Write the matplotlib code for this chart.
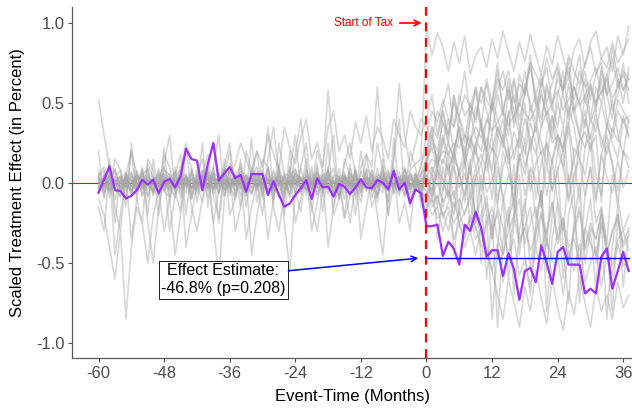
import numpy as np
import matplotlib
matplotlib.use("Agg")
import matplotlib.pyplot as plt

plt.rcParams['font.family'] = ['Liberation Sans', 'DejaVu Sans']
plt.rcParams['axes.unicode_minus'] = False

# event time in months
months = list(range(-60, 38))

# treated unit (purple), scaled effect
treated = [
    -0.06, 0.02, 0.105, -0.044, -0.05, -0.096, -0.08, -0.044, 0.02, -0.01,
    0.02, -0.065, 0.008, 0.025, -0.027, 0.04, 0.215, 0.15, 0.14, -0.044,
    0.12, 0.25, 0.015, 0.06, 0.10, 0.03, 0.05, -0.054, 0.056, 0.056,
    0.056, -0.075, 0.012, -0.075, -0.148, -0.127, -0.075, -0.033, 0.019, -0.10,
    0.03, -0.027, -0.023, -0.085, -0.006, -0.023, -0.069, -0.027, 0.023, -0.027,
    -0.033, 0.019, 0.002, -0.04, 0.075, -0.04, 0.002, -0.127, -0.04, -0.064,
    -0.27, -0.27, -0.26, -0.456, -0.367, -0.41, -0.51, -0.26, -0.30, -0.18,
    -0.28, -0.46, -0.42, -0.42, -0.58, -0.44, -0.54, -0.73, -0.55, -0.53,
    -0.62, -0.39, -0.50, -0.63, -0.43, -0.40, -0.51, -0.51, -0.51, -0.69,
    -0.66, -0.69, -0.46, -0.41, -0.66, -0.55, -0.43, -0.55,
]

effect = -0.468
effect_label = "Effect Estimate:\n-46.8% (p=0.208)"

# placebo units (grey), in hundredths
plc_01 = [3,-2,5,1,-4,2,6,-3,0,4, -2,3,-5,2,1,-3,4,0,-2,5, 2,-4,3,6,-1,2,-3,4,1,-2,
          0,3,-4,2,5,-1,-3,2,4,0, -2,5,1,-3,2,4,-2,0,3,-1, 2,-3,4,1,-2,3,0,5,-1,2,
          8,15,12,20,18,25,22,30,26,35, 28,40,33,38,45,36,42,50,44,39,
          47,55,43,50,58,46,52,60,48,55, 62,50,57,65,53,60,68,58]
plc_02 = [-3,2,4,-1,0,3,-2,5,1,-4, 2,0,-3,4,2,-1,3,-2,1,0, 4,-3,2,1,-2,5,0,-1,3,2,
          -4,1,3,-2,0,4,2,-3,1,5, 0,-2,3,1,-4,2,6,-1,0,3, -2,4,1,-3,2,0,5,8,12,15,
          97,80,94,85,70,88,75,92,68,80, 85,72,90,78,95,82,70,88,76,93,
          80,68,86,74,92,79,66,84,90,72, 88,95,78,85,70,92,80,98]
plc_03 = [2,-3,0,4,-2,1,-5,3,2,-1, -4,2,5,-2,0,3,-1,-3,2,4, -2,0,3,-4,1,2,-3,5,0,-2,
          3,1,-4,2,-1,0,4,-3,2,1, -1,3,-2,0,4,-3,1,2,-5,3, 0,-2,4,1,-3,2,0,-4,3,-1,
          -5,-12,-8,-20,-15,-25,-18,-30,-22,-35, -28,-40,-55,-70,-85,-60,-75,-90,-65,-80,
          -55,-72,-88,-60,-78,-92,-68,-82,-58,-75, -90,-65,-80,-70,-85,-62,-78,-70]
plc_04 = [52,30,10,-15,-30,5,20,-10,-25,15, 8,-20,12,30,-5,-18,22,10,-12,5,
          18,-8,-22,10,25,-5,12,-15,8,20, -10,15,35,5,-12,20,-8,10,25,-5,
          12,-18,8,30,-10,15,5,-20,10,18, -5,25,8,-12,15,40,-8,20,10,-15,
          20,35,10,45,25,55,30,15,40,60, 35,20,50,70,45,30,65,40,55,75,
          50,35,60,45,70,55,40,65,80,50, 60,45,70,55,85,65,50,72]
plc_05 = [-10,-20,-40,-60,-30,-85,-40,-15,-25,-50, -20,-5,-30,-10,-45,-20,5,-15,-30,-10,
          10,-25,-5,15,-20,-10,5,-35,-15,0, -20,10,-15,-30,-5,10,-25,-10,5,-15,
          -30,-5,10,-20,-10,5,-25,0,-12,8, -15,-5,10,-20,0,-8,5,-12,0,-5,
          -10,-20,-15,-30,-18,-35,-25,-40,-30,-45, -28,-42,-55,-38,-62,-45,-35,-58,-48,-65,
          -40,-55,-35,-60,-45,-70,-42,-55,-38,-62, -50,-40,-65,-45,-58,-38,-52,-48]
plc_06 = [1,-1,2,0,-2,1,3,-1,0,2, -1,1,-2,0,2,-1,1,0,-2,1, 2,-1,0,1,-2,2,0,-1,1,2,
          -1,0,2,-2,1,0,-1,2,1,-1, 0,2,-1,1,-2,0,1,2,-1,0, 2,-1,1,0,-2,1,2,-1,0,1,
          5,-8,10,-5,12,-10,8,15,-6,10, -12,18,5,-15,20,8,-10,15,25,-5,
          12,20,-8,15,28,10,-12,22,15,5, 25,-10,18,30,12,-5,20,15]
plc_07 = [5,10,-5,15,8,-10,20,5,-8,12, 3,-6,18,10,-4,8,25,-10,5,15,
          -5,10,30,-8,12,5,-15,20,8,-3, 15,10,-12,25,5,-8,18,40,10,-5,
          20,8,58,15,-10,12,25,5,-8,18, 10,60,20,-5,15,62,30,10,25,40,
          35,28,45,38,30,50,42,55,48,40, 60,52,45,65,58,70,50,62,55,75,
          68,60,78,65,72,58,80,70,62,75, 85,68,78,72,88,75,82,90]
plc_08 = [-2,4,-5,1,3,-3,0,5,-4,2, 1,-2,3,-5,2,0,4,-3,1,-1, 3,-4,2,0,-2,5,-1,3,-3,1,
          2,-5,0,4,-2,1,3,-4,0,2, -3,1,4,-2,0,3,-1,-4,2,1, -2,3,0,-3,5,-1,2,-2,1,-6,
          -15,-10,-22,-18,-30,-12,-25,-35,-20,-28, -40,-25,-15,-35,-45,-30,-20,-38,-28,-42,
          -32,-18,-36,-48,-30,-22,-40,-35,-50,-28, -38,-45,-25,-40,-52,-35,-30,-42]
plc_09 = [4,-6,2,8,-3,5,-8,3,6,-2, -5,7,1,-4,6,-1,3,-7,5,2, -3,6,-2,4,-6,3,7,-4,1,5,
          -2,4,-5,8,0,-3,6,2,-5,3, 7,-1,4,-6,2,5,-3,8,-2,4, -4,6,1,-5,3,7,-2,4,-3,6,
          10,5,18,12,25,15,8,22,30,18, 12,28,20,35,25,15,32,22,40,28,
          18,35,45,25,30,20,38,48,30,22, 40,32,50,35,28,45,38,42]
plc_10 = [-15,-30,10,-45,-20,5,-35,-10,8,-25, -50,-15,5,-30,-8,10,-40,-20,0,-12,
          5,-25,-60,-10,8,-30,-15,5,-45,-20, 0,-35,-10,10,-25,-55,-5,-18,8,-30,
          -12,5,-40,-15,0,-22,-8,10,-35,-15, 5,-20,-45,-8,10,-25,-12,-30,5,-10,
          -20,10,-35,-5,20,-45,-15,15,-30,5, -50,-20,-85,-40,-10,-60,-25,5,-45,-70,
          -30,-5,-55,-20,10,-40,-75,-25,0,-50, -30,-65,-15,-40,-80,-20,-45,-55]
plc_11 = [0,3,-2,1,4,-3,2,0,-1,3, -2,1,0,4,-3,2,-1,3,0,-2, 4,1,-3,2,0,-1,3,-2,5,1,
          -3,2,0,-1,4,-2,1,3,-4,0, 2,-1,3,0,-2,4,1,-3,2,0, -1,3,-2,1,0,4,-3,2,1,10,
          30,45,38,52,40,35,55,42,48,60, 50,62,45,58,70,52,65,48,60,72,
          55,68,50,62,75,58,66,52,70,60, 64,72,55,68,78,60,70,65]
plc_12 = [2,0,-3,1,4,-2,0,3,-1,2, -4,1,3,0,-2,5,-1,2,-3,0, 1,4,-2,0,3,-1,-4,2,1,-2,
          3,0,-1,4,-3,2,1,-2,0,3, -1,2,-4,1,3,0,-2,4,-1,2, 0,-3,1,3,-2,0,4,-1,2,-3,
          -2,-8,0,-12,-5,-15,-10,-20,-6,-18, -25,-12,-30,-18,-45,-22,-10,-35,-28,-15,
          -40,-20,-32,-12,-38,-25,-50,-30,-18,-42, -28,-35,-20,-45,-30,-22,-40,-33]
plc_13 = [20,-10,15,-25,5,-15,25,-5,10,-20, 15,-8,22,-12,5,18,-20,8,-5,25,
          -15,10,-25,5,20,-10,15,-8,28,-12, 5,35,-10,12,-20,8,30,-5,15,-18,
          10,-8,25,-15,5,-22,12,-10,20,-5, 8,-12,15,-20,28,-5,10,-15,5,-8,
          15,30,10,25,40,20,35,15,45,28, 20,38,50,30,22,42,55,35,25,48,
          32,58,40,28,50,35,62,42,30,55, 38,48,65,40,32,52,45,38]
plc_14 = [-3,1,4,-2,0,3,-5,2,1,-1, 3,-2,0,4,-4,1,2,-3,5,0, -2,3,1,-4,2,0,-1,5,-3,2,
          1,-2,4,0,-3,2,-1,3,0,-4, 2,1,-3,4,0,-2,3,-1,2,1, -4,0,3,-2,1,-1,4,0,-3,2,
          5,-10,8,-15,0,12,-20,-5,10,-25, -8,-60,-20,-90,-35,-15,-70,-30,-10,-55,
          -25,-5,-80,-35,-12,-60,-20,-5,-75,-30, -10,-50,-25,-85,-40,-15,-65,-30]
plc_15 = [1,3,-1,2,0,-2,4,1,-3,2, 0,-1,3,1,-2,0,2,-3,1,4, -1,2,0,-2,3,1,-1,0,2,-3,
          4,1,-2,0,3,-1,2,1,-4,0, 3,-2,1,2,-1,0,4,-3,1,2, -2,0,3,1,-1,2,0,-2,3,1,
          4,10,2,15,8,20,5,12,25,10, 18,8,22,15,30,12,20,28,10,24,
          35,18,25,12,30,22,38,15,26,32, 20,40,28,18,34,26,42,30]
plc_16 = [2,-4,6,0,-3,5,1,-2,4,-1, 3,-5,2,6,-2,0,4,-3,1,5, -2,3,0,-4,6,12,25,15,5,20,
          10,30,18,8,35,22,12,28,40,15, 25,10,35,45,20,30,15,38,25,42, 20,35,28,15,40,30,22,45,35,30,
          40,55,30,48,62,35,50,70,42,58, 35,65,50,75,45,60,38,68,55,80,
          48,62,72,50,65,58,78,45,60,70, 52,68,75,55,62,72,58,65]
plc_17 = [-1,2,0,-3,1,2,-2,0,3,-1, 2,-2,1,0,-1,3,-2,1,0,2, -3,1,2,-1,0,2,-2,1,3,-1,
          0,2,-3,1,2,-1,0,3,-2,1, 2,-1,0,1,-3,2,1,-2,0,3, -1,1,2,-2,0,1,-1,3,0,-2,
          3,-5,8,2,-8,10,-3,6,-10,4, 12,-6,2,15,-12,5,-4,18,-8,10,
          2,-15,12,-5,8,20,-10,5,15,-8, 10,-12,18,4,-6,14,-3,8]
plc_18 = [3,-1,-4,2,1,-2,5,0,-3,2, 1,4,-2,0,3,-4,1,2,-1,0, 5,-2,1,3,-3,0,2,-1,4,-2,
          0,3,-1,2,-4,1,5,-2,0,3, -3,1,2,0,-2,4,-1,3,1,-3, 2,0,-1,4,-2,1,3,-4,2,6,
          15,22,8,28,18,12,30,20,5,25, 35,15,-10,28,40,22,-20,32,18,38,
          25,-15,30,42,20,10,35,-5,28,45, 22,30,-12,38,25,15,40,28]
plc_19 = [6,-8,3,9,-5,2,-7,8,-3,5, -6,4,10,-4,7,-9,2,6,-5,8, -3,9,-6,4,-8,5,10,-2,-7,3,
          8,-5,2,-9,6,4,-6,9,-3,1, -8,5,7,-4,3,-10,6,2,-5,9, 4,-7,8,-3,5,-6,9,-2,6,-4,
          10,25,15,30,5,20,35,12,28,18, 40,22,8,35,25,45,15,30,50,20,
          38,25,12,42,30,20,48,35,15,40, 28,45,22,35,52,30,18,40]
plc_20 = [-7,5,-2,8,-6,3,7,-4,9,-8, 2,6,-5,-9,4,8,-3,5,-7,1, 9,-4,6,-8,3,-2,7,-6,4,10,
          -5,3,-9,6,1,-7,8,-4,5,-2, 7,-6,3,9,-8,2,-5,6,-3,8, -9,4,6,-2,8,-5,3,-7,5,-3,
          -5,-15,-8,-22,-12,-5,-25,-18,-10,-30, -20,-8,-35,-15,-28,-45,-20,-10,-38,-25,
          -15,-40,-30,-12,-35,-22,-50,-28,-15,-40, -25,-35,-18,-45,-30,-20,-38,-28]
plc_21 = [4,8,-6,2,-9,5,-3,7,-8,6, -2,9,-5,3,7,-6,4,-10,2,8, -4,6,-7,9,-3,5,2,-8,7,-5,
          3,-6,8,-2,5,-9,6,3,-4,10, -7,2,6,-5,9,-3,4,-8,7,-1, 5,-9,3,8,-6,4,-2,7,-5,12,
          20,35,28,45,30,55,40,25,50,38, 60,45,30,55,42,65,35,50,70,45,
          55,40,62,48,35,58,72,45,52,65, 40,60,50,68,45,55,75,50]
plc_22 = [-4,6,-9,3,8,-5,2,-7,5,9, -8,3,6,-2,-9,7,4,-5,8,-3, 6,-7,2,9,-4,5,-8,3,-6,7,
          -2,8,-5,4,-9,6,2,-7,9,-3, 5,-4,8,-6,2,7,-9,4,-2,6, -5,9,-3,6,-7,2,8,-4,3,-8,
          8,-5,15,2,-10,20,5,-8,12,25, -5,15,30,-12,10,22,-15,18,5,28,
          -10,12,25,-5,20,35,0,15,-12,22, 30,5,-8,25,12,-15,20,10]
plc_23 = [8,-3,5,-10,2,7,-6,4,-2,9, -7,5,2,-8,10,-4,6,-9,3,-5, 7,2,-6,8,-3,-9,5,4,-7,6,
          -8,10,-2,5,-6,3,9,-5,2,-10, 6,-3,7,2,-9,5,-4,8,-6,3, 2,-8,5,-4,9,-2,-7,6,-3,4,
          12,28,20,38,25,15,42,30,22,48, 35,18,52,40,28,58,45,30,62,50,
          38,65,48,32,55,70,42,60,50,35, 62,48,72,55,40,65,58,68]
plc_24 = [-6,3,9,-4,-8,6,2,-5,7,-9, 4,-3,8,5,-7,2,-6,9,-4,3, -9,6,4,-2,8,-7,3,-5,9,2,
          5,-8,6,-3,-6,9,-2,4,-8,7, -3,8,-7,5,4,-6,9,-4,2,-5, 8,-2,-6,7,-4,5,-9,3,6,-7,
          -8,5,-15,10,-5,-20,8,-12,15,-25, 5,-18,-35,10,-8,-28,12,-45,-15,8,
          -22,-5,-40,15,-12,-30,5,-20,-50,-8, 10,-25,-15,-38,5,-10,-30,-20]

placebos = [plc_01, plc_02, plc_03, plc_04, plc_05, plc_06, plc_07, plc_08,
            plc_09, plc_10, plc_11, plc_12, plc_13, plc_14, plc_15, plc_16,
            plc_17, plc_18, plc_19, plc_20, plc_21, plc_22, plc_23, plc_24]

x_ticks = [-60, -48, -36, -24, -12, 0, 12, 24, 36]
y_ticks = [-1.0, -0.5, 0.0, 0.5, 1.0]

fig = plt.figure(figsize=(6.32, 4.13), dpi=100)
ax = fig.add_axes([0.114, 0.133, 0.886, 0.85])

ax.axhline(0, color='red', lw=0.8, zorder=1)
for p in placebos:
    ax.plot(months, np.array(p) / 100.0, color='#a8a8a8', lw=1.2, alpha=0.45, zorder=2)

ax.plot(months, treated, color='#9b30ff', lw=1.6, zorder=4)
ax.axvline(0, color='red', lw=1.6, ls=(0, (4, 3)), zorder=5)
ax.plot([0, months[-1]], [effect, effect], color='blue', lw=1.0, zorder=5)

# annotations
ax.text(-6.2, 1.0, "Start of Tax", color='red', fontsize=8.5, ha='right', va='center')
ax.annotate('', xy=(-0.4, 1.0), xytext=(-5.4, 1.0),
            arrowprops=dict(arrowstyle='->', color='red', lw=1.2))
ax.text(-37.2, -0.605, effect_label, fontsize=11.5, ha='center', va='center',
        linespacing=1.25, zorder=6,
        bbox=dict(boxstyle='square,pad=0.15', fc='white', ec='black', lw=0.6))
ax.annotate('', xy=(-1.0, effect), xytext=(-25.8, -0.55),
            arrowprops=dict(arrowstyle='->', color='blue', lw=1.1), zorder=7)

ax.set_xlim(-64.85, 37.6)
ax.set_ylim(-1.094, 1.10)
ax.set_xticks(x_ticks)
ax.set_yticks(y_ticks)
ax.set_yticklabels(['-1.0', '-0.5', '0.0', '0.5', '1.0'])
ax.set_xlabel("Event-Time (Months)", fontsize=12, labelpad=6)
ax.set_ylabel("Scaled Treatment Effect (in Percent)", fontsize=12, labelpad=8)

for side in ['top', 'right']:
    ax.spines[side].set_visible(False)
for side in ['left', 'bottom']:
    ax.spines[side].set_color('#5a5a5a')
    ax.spines[side].set_linewidth(0.9)
ax.tick_params(axis='both', colors='#4d4d4d', labelsize=12, length=3, width=0.8, pad=2.5)

fig.savefig("out.png", dpi=100)
